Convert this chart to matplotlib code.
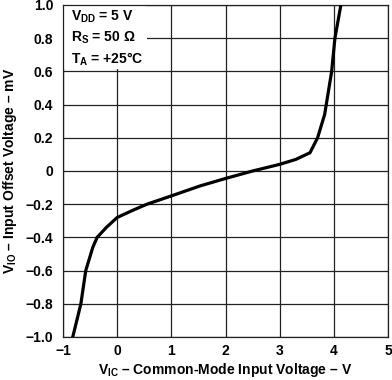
import matplotlib
matplotlib.use("Agg")
import matplotlib.pyplot as plt
from matplotlib.patches import Rectangle

plt.rcParams['font.family'] = ['Liberation Sans', 'DejaVu Sans']
plt.rcParams['font.weight'] = 'bold'
plt.rcParams['mathtext.fontset'] = 'custom'
plt.rcParams['mathtext.rm'] = 'Liberation Sans:bold'
plt.rcParams['mathtext.bf'] = 'Liberation Sans:bold'
plt.rcParams['mathtext.it'] = 'Liberation Sans:bold'

# curve
vic = [-0.82, -0.67, -0.58, -0.45, -0.37, -0.2, 0.0, 0.3, 0.55, 1.0, 1.53, 2.0,
       2.5, 3.0, 3.3, 3.56, 3.7, 3.83, 3.96, 4.02, 4.13]
vio = [-1.0, -0.8, -0.6, -0.46, -0.4, -0.34, -0.28, -0.235, -0.2, -0.15, -0.09, -0.045,
       0.0, 0.04, 0.07, 0.11, 0.2, 0.34, 0.6, 0.8, 1.0]

xticks = [-1, 0, 1, 2, 3, 4, 5]
yticks = [-1.0, -0.8, -0.6, -0.4, -0.2, 0, 0.2, 0.4, 0.6, 0.8, 1.0]
ytick_labels = ['\u22121.0', '\u22120.8', '\u22120.6', '\u22120.4', '\u22120.2', '0',
                '0.2', '0.4', '0.6', '0.8', '1.0']
xtick_labels = ['\u22121', '0', '1', '2', '3', '4', '5']
notes = [r'$\mathregular{V_{DD}}$ = 5 V', r'$\mathregular{R_S}$ = 50 Ω',
         r'$\mathregular{T_A}$ = +25°C']

fig = plt.figure(figsize=(3.92, 3.8), dpi=100)
ax = fig.add_axes([63 / 392, 43 / 380, 325 / 392, 332 / 380])

ax.plot(vic, vio, color='black', linewidth=2.3, zorder=4)

ax.set_xlim(-1, 5)
ax.set_ylim(-1.0, 1.0)
ax.set_xticks(xticks)
ax.set_xticklabels(xtick_labels)
ax.set_yticks(yticks)
ax.set_yticklabels(ytick_labels)
ax.tick_params(length=0, labelsize=10, pad=7)
ax.tick_params(axis='x', pad=5)
ax.grid(True, color='#222222', linewidth=0.9)
ax.set_axisbelow(True)
for s in ax.spines.values():
    s.set_color('#222222')
    s.set_linewidth(0.9)

# white box behind the conditions text
ax.add_patch(Rectangle((-1, 0.615), 1.55, 0.385, facecolor='white',
                       edgecolor='none', zorder=2))
for i, t in enumerate(notes):
    ax.text(-0.85, 0.93 - i * 0.13, t, fontsize=10, fontweight='bold',
            va='center', ha='left', zorder=3)

ax.set_xlabel(r'$\mathregular{V_{IC}}$ – Common-Mode Input Voltage – V',
              fontsize=10, fontweight='bold', labelpad=2)
ax.set_ylabel(r'$\mathregular{V_{IO}}$ – Input Offset Voltage – mV',
              fontsize=10, fontweight='bold', labelpad=5)

fig.savefig('out.png', dpi=100)
